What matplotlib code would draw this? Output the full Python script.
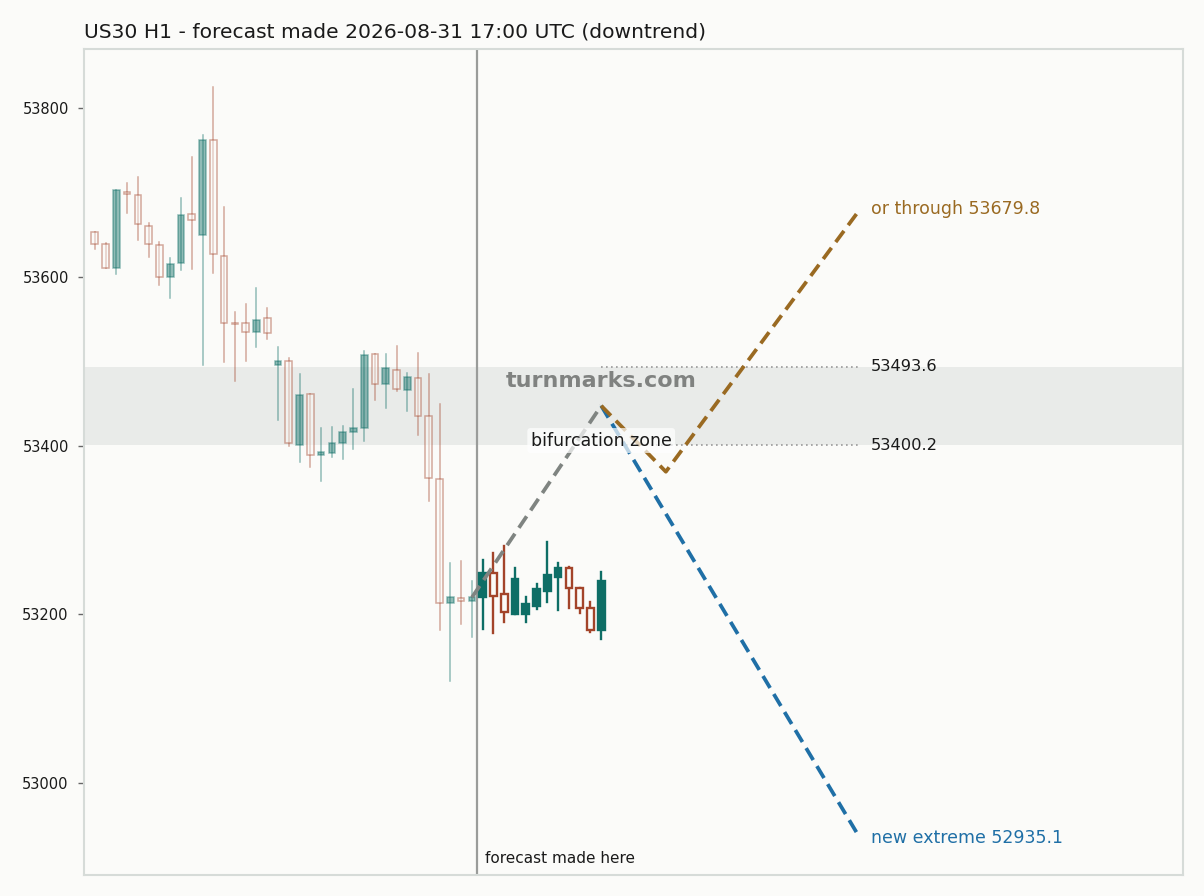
import matplotlib
matplotlib.use("Agg")
import matplotlib.pyplot as plt
import matplotlib.transforms as mtransforms
from matplotlib.patches import Rectangle

# candles before the forecast point
hist_open = [53652.7, 53638.4, 53610.8, 53700.9, 53696.5, 53660.2, 53637.6, 53599.3, 53615.9,
             53674.0, 53649.1, 53762.1, 53624.6, 53545.2, 53544.8, 53534.9, 53551.1, 53495.0,
             53500.1, 53400.1, 53460.6, 53388.3, 53391.5, 53402.5, 53415.6, 53421.1, 53508.0,
             53473.2, 53489.4, 53465.3, 53479.6, 53434.5, 53359.8, 53213.0, 53218.8, 53216.1]
hist_close = [53638.4, 53610.8, 53702.8, 53697.7, 53662.1, 53638.4, 53599.3, 53615.1, 53673.2,
              53666.9, 53762.1, 53626.6, 53544.8, 53544.4, 53534.1, 53548.8, 53533.0, 53500.1,
              53402.5, 53459.8, 53388.3, 53392.2, 53402.5, 53415.6, 53420.3, 53507.2, 53472.4,
              53491.4, 53466.5, 53480.7, 53434.5, 53361.0, 53213.0, 53220.0, 53215.6, 53220.0]
hist_high = [53653.4, 53640.4, 53702.8, 53711.5, 53718.6, 53664.1, 53641.6, 53621.8, 53692.9,
             53741.6, 53768.0, 53824.5, 53682.3, 53558.6, 53567.3, 53586.3, 53563.6, 53516.3,
             53503.3, 53484.3, 53460.6, 53420.3, 53421.5, 53423.5, 53466.5, 53512.3, 53508.0,
             53508.0, 53518.3, 53485.5, 53509.2, 53484.7, 53448.7, 53261.1, 53263.5, 53239.8]
hist_low = [53632.9, 53610.8, 53602.9, 53675.2, 53643.6, 53623.0, 53590.2, 53574.4, 53608.0,
            53608.8, 53495.4, 53604.1, 53499.4, 53476.6, 53500.2, 53516.4, 53525.8, 53430.2,
            53399.4, 53380.0, 53374.1, 53357.9, 53386.7, 53383.6, 53395.4, 53404.9, 53453.9,
            53444.0, 53464.5, 53440.8, 53412.4, 53334.2, 53181.3, 53120.8, 53188.4, 53173.4]

# candles after the forecast point
fut_open = [53220.8, 53249.3, 53223.6, 53200.7, 53199.9, 53210.2, 53228.0, 53244.5, 53254.4, 53231.5, 53207.8, 53180.9]
fut_close = [53249.3, 53222.0, 53202.3, 53241.8, 53211.7, 53229.5, 53246.5, 53254.5, 53230.7, 53207.0, 53181.3, 53239.4]
fut_high = [53264.3, 53273.0, 53280.9, 53254.4, 53220.0, 53235.8, 53285.2, 53261.1, 53255.6, 53231.5, 53214.5, 53250.1]
fut_low = [53182.5, 53178.2, 53190.4, 53200.7, 53190.4, 53206.2, 53214.9, 53205.0, 53207.8, 53201.1, 53178.6, 53170.3]

# forecast paths (bar index, price)
lead_x = [35, 47]
lead_y = [53220.0, 53447.2]
alt_x = [47, 53, 71]
alt_y = [53447.2, 53369.0, 53679.8]
main_x = [47, 71]
main_y = [53447.2, 52935.1]

zone_lo = 53400.2
zone_hi = 53493.6
forecast_at = 35.5

TEAL = '#0e6e66'
RED = '#a3442a'
BROWN = '#9a6a22'
BLUE = '#1f6fa6'
BG = '#fbfbf9'
DASH = (0, (3.7, 1.9))

fig = plt.figure(figsize=(12.04, 8.96), dpi=100, facecolor=BG)
ax = fig.add_axes([0.0698, 0.0234, 0.9128, 0.9219], facecolor=BG)


def draw_candles(ax, start, o, h, l, c, alpha, lw):
    w = 0.62
    for k in range(len(o)):
        i = start + k
        up = c[k] >= o[k]
        col = TEAL if up else RED
        ax.plot([i, i], [l[k], h[k]], color=col, lw=lw, alpha=alpha, zorder=3)
        lo, hi = min(o[k], c[k]), max(o[k], c[k])
        if up:
            rect = Rectangle((i - w / 2, lo), w, max(hi - lo, 0.8), facecolor=col,
                             edgecolor=col, lw=lw, alpha=alpha, zorder=4)
        else:
            rect = Rectangle((i - w / 2, lo), w, max(hi - lo, 0.8), facecolor=BG,
                             edgecolor=col, lw=lw, alpha=alpha, zorder=4)
        ax.add_patch(rect)


ax.axhspan(zone_lo, zone_hi, color='#e9ebe9', zorder=1, lw=0)

draw_candles(ax, 0, hist_open, hist_high, hist_low, hist_close, 0.45, 1.1)
draw_candles(ax, len(hist_open), fut_open, fut_high, fut_low, fut_close, 1.0, 1.7)

ax.axvline(forecast_at, color='#9a9c9a', lw=1.6, zorder=2)

ax.plot(lead_x, lead_y, color='#7f8481', lw=2.7, ls=DASH, zorder=5)
ax.plot(main_x, main_y, color=BLUE, lw=2.7, ls=DASH, zorder=5)
ax.plot(alt_x, alt_y, color=BROWN, lw=2.7, ls=DASH, zorder=5)

for lvl in [zone_hi, zone_lo]:
    ax.plot([main_x[0], main_x[1]], [lvl, lvl], color='#999999', lw=1.2, ls=(0, (1, 2)), zorder=2)
    ax.text(main_x[1] + 1, lvl, f'{lvl:.1f}', fontsize=11.7, color='#1a1a1a', va='center', ha='left')

ax.text(alt_x[-1] + 1, alt_y[-1], f'or through {alt_y[-1]:.1f}', fontsize=12.5, color=BROWN,
        va='center', ha='left')
ax.text(main_x[-1] + 1, main_y[-1], f'new extreme {main_y[-1]:.1f}', fontsize=12.5, color=BLUE,
        va='center', ha='left')

ax.text(47, 53476.0, 'turnmarks.com', fontsize=16, fontweight='bold', color='#7a7d7b',
        ha='center', va='center', alpha=0.95, zorder=6)
ax.text(47, 53406.0, 'bifurcation zone', fontsize=12.5, color='#1a1a1a', ha='center', va='center',
        zorder=7, bbox=dict(boxstyle='round,pad=0.2', facecolor='white', edgecolor='none', alpha=0.7))

trans = mtransforms.blended_transform_factory(ax.transData, ax.transAxes)
ax.text(forecast_at + 0.7, 0.011, 'forecast made here', fontsize=11, color='#1a1a1a',
        transform=trans, ha='left', va='bottom')

ax.set_xlim(-1, 101)
ax.set_ylim(52891, 53870)
ax.set_xticks([])
ax.set_yticks([53000, 53200, 53400, 53600, 53800])
ax.tick_params(axis='y', labelsize=10.5, colors='#666666', labelcolor='#1a1a1a',
               length=4.5, width=1, pad=6.5)
for s in ax.spines.values():
    s.set_color('#d6dbd8')
    s.set_linewidth(1.5)

ax.set_title('US30 H1 - forecast made 2026-08-31 17:00 UTC (downtrend)', loc='left',
             fontsize=14.6, color='#1a1a1a', pad=8)

fig.savefig('out.png', dpi=100, facecolor=BG)
